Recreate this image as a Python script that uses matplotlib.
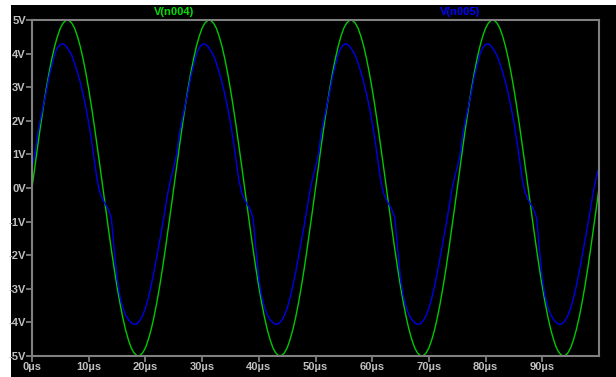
import numpy as np
import matplotlib
matplotlib.use("Agg")
import matplotlib.pyplot as plt
from matplotlib.patches import Rectangle

step_us = 0.5
v_n004 = [0.00, 0.63, 1.24, 1.84, 2.41, 2.94, 3.42, 3.85, 4.22, 4.52,
          4.76, 4.91, 4.99, 4.99, 4.91, 4.76, 4.52, 4.22, 3.85, 3.42,
          2.94, 2.41, 1.84, 1.24, 0.63, 0.00, -0.63, -1.24, -1.84, -2.41,
          -2.94, -3.42, -3.85, -4.22, -4.52, -4.76, -4.91, -4.99, -4.99, -4.91,
          -4.76, -4.52, -4.22, -3.85, -3.42, -2.94, -2.41, -1.84, -1.24, -0.63]
v_n005 = [0.62, 1.00, 1.62, 2.05, 2.45, 2.85, 3.30, 3.65, 3.98, 4.18,
          4.27, 4.29, 4.22, 4.10, 3.95, 3.72, 3.45, 3.15, 2.80, 2.40,
          1.95, 1.42, 0.82, 0.22, -0.15, -0.35, -0.50, -0.65, -0.90, -1.85,
          -2.70, -3.22, -3.55, -3.78, -3.92, -4.01, -4.06, -4.04, -3.95, -3.80,
          -3.58, -3.28, -2.92, -2.50, -2.05, -1.58, -1.12, -0.62, -0.10, 0.30]
n_periods = 4

y_ticks = [-5, -4, -3, -2, -1, 0, 1, 2, 3, 4, 5]
x_ticks = [0, 10, 20, 30, 40, 50, 60, 70, 80, 90]

# build the full 0..100 µs traces
t = np.arange(len(v_n004) * n_periods + 1) * step_us
y4 = np.concatenate([np.tile(v_n004, n_periods), [v_n004[0]]])
y5 = np.concatenate([np.tile(v_n005, n_periods), [v_n005[0]]])

W, H = 616, 377
fig = plt.figure(figsize=(W / 100, H / 100), dpi=100, facecolor="white")
# black screen area (small white margin top/left like the screenshot)
fig.patches.append(Rectangle((11 / W, 0), 1 - 11 / W, (H - 5) / H,
                             transform=fig.transFigure, facecolor="black",
                             edgecolor="none", zorder=-10))

ax = fig.add_axes([32 / W, 21 / H, (599 - 32) / W, 336 / H])
ax.set_facecolor("black")

ax.plot(t, y4, color="#00c800", lw=1.0)
ax.plot(t, y5, color="#0000e6", lw=1.0)

ax.set_xlim(0, 100)
ax.set_ylim(-5, 5)

font = dict(family="Liberation Sans", weight="bold", size=8)
grey = "#808080"
lab = "#c0c0c0"
for s in ax.spines.values():
    s.set_color(grey)
    s.set_linewidth(1.5)

ax.set_yticks(y_ticks)
ax.set_yticklabels([f"{v}V" for v in y_ticks], color=lab, **font)
ax.set_xticks(x_ticks)
ax.set_xticklabels([f"{v}µs" for v in x_ticks], color=lab, **font)
ax.tick_params(axis="both", direction="out", length=4, width=1.3, color=grey, pad=0.5)

fig.text(174 / W, 1 - 12 / H, "V(n004)", color="#00e000", ha="center", va="center", **font)
fig.text(460 / W, 1 - 12 / H, "V(n005)", color="#0000ff", ha="center", va="center", **font)

fig.savefig("out.png", dpi=100, facecolor=fig.get_facecolor())
